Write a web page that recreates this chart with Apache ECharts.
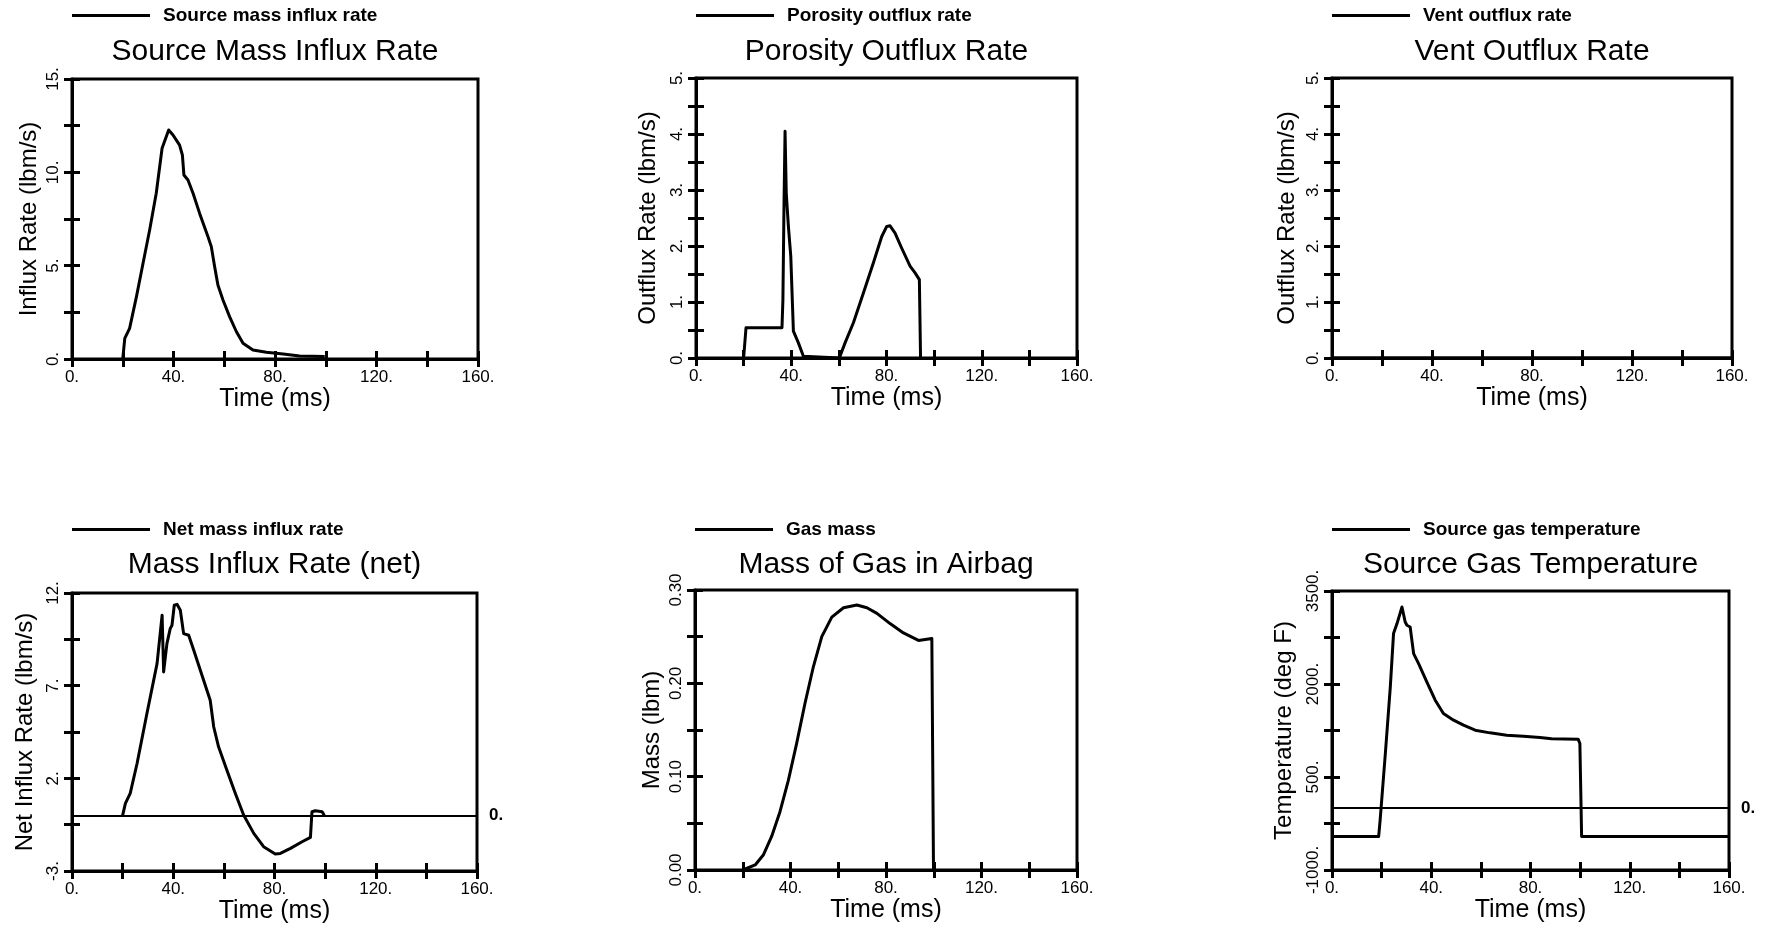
<!DOCTYPE html>
<html><head><meta charset="utf-8">
<script src="https://cdn.jsdelivr.net/npm/echarts@6/dist/echarts.min.js"></script>
<style>html,body{margin:0;padding:0;background:#fff}#c{width:1776px;height:928px}</style>
</head><body><div id="c"></div>
<script>
// ---- data ----
const sourceTime = [20, 20.8, 22.7, 25.4, 28.0, 30.6, 33.2, 35.5, 38.1, 39.8, 42.4, 43.5, 44.1, 45.7, 47.7, 50.3, 53.6, 54.9, 56.2, 57.5, 59.5, 62.1, 64.8, 67.4, 71.3, 76.6, 83.2, 89.7, 99.6];
const sourceRate = [0, 1.1, 1.64, 3.34, 5.13, 6.91, 8.88, 11.29, 12.27, 12.0, 11.46, 10.93, 9.86, 9.59, 8.88, 7.8, 6.55, 6.02, 4.95, 3.96, 3.16, 2.27, 1.46, 0.84, 0.48, 0.36, 0.27, 0.16, 0.13];

const porosityTime = [20, 21, 36.1, 36.5, 37.0, 37.4, 37.9, 38.8, 39.8, 40.9, 43.0, 45.1, 45.8, 60.2, 62.6, 66.1, 70.3, 74.5, 78.0, 80.1, 81.5, 83.6, 86.4, 89.9, 92.0, 93.8, 94.3];
const porosityRate = [0, 0.54, 0.54, 1.04, 2.89, 4.05, 2.95, 2.35, 1.82, 0.48, 0.27, 0.03, 0, 0, 0.27, 0.63, 1.16, 1.70, 2.17, 2.35, 2.36, 2.23, 1.96, 1.64, 1.52, 1.40, 0];

const ventTime = [0, 160];
const ventRate = [0, 0];

const netTime = [20, 21.1, 23.0, 25.7, 29.6, 33.6, 35.6, 36.2, 37.5, 38.8, 39.5, 40.4, 41.5, 42.8, 44.1, 46.1, 48.1, 50.7, 53.3, 54.6, 56.0, 57.9, 61.2, 64.5, 67.8, 71.8, 75.7, 80.3, 82.3, 86.3, 90.9, 94.2, 94.8, 96.1, 98.8, 99.7];
const netRate = [0, 0.65, 1.19, 2.80, 5.50, 8.19, 10.80, 7.74, 9.27, 10.08, 10.26, 11.34, 11.39, 11.07, 9.81, 9.72, 8.91, 7.83, 6.75, 6.21, 4.77, 3.70, 2.44, 1.19, 0.02, -0.97, -1.69, -2.08, -2.05, -1.78, -1.42, -1.19, 0.20, 0.25, 0.20, 0];

const massTime = [20, 25.2, 28.6, 32.1, 35.6, 39.1, 42.6, 46.1, 49.6, 53.1, 57.3, 62.2, 67.8, 72.0, 76.2, 81.7, 87.3, 93.6, 99.2, 99.9];
const massValue = [0, 0.0054, 0.016, 0.036, 0.0625, 0.096, 0.136, 0.179, 0.218, 0.25, 0.271, 0.281, 0.284, 0.281, 0.275, 0.264, 0.254, 0.246, 0.248, 0];

const tempTime = [0, 18.8, 19.4, 21.5, 23.5, 24.8, 26.2, 28.2, 29.5, 30.2, 31.5, 32.9, 34.9, 38.2, 41.6, 44.9, 49.0, 53.0, 57.7, 63.7, 70.4, 77.1, 83.8, 88.5, 99.2, 99.9, 100.6, 160];
const tempValue = [-460, -460, -194, 879, 1953, 2813, 2974, 3242, 3000, 2947, 2920, 2490, 2329, 2034, 1739, 1524, 1416, 1336, 1255, 1212, 1175, 1159, 1137, 1116, 1110, 1040, -460, -460];

const titles = ['Source Mass Influx Rate', 'Porosity Outflux Rate', 'Vent Outflux Rate', 'Mass Influx Rate (net)', 'Mass of Gas in Airbag', 'Source Gas Temperature'];
const seriesNames = ['Source mass influx rate', 'Porosity outflux rate', 'Vent outflux rate', 'Net mass influx rate', 'Gas mass', 'Source gas temperature'];
const yNames = ['Influx Rate (lbm/s)', 'Outflux Rate (lbm/s)', 'Outflux Rate (lbm/s)', 'Net Influx Rate (lbm/s)', 'Mass (lbm)', 'Temperature (deg F)'];
const xName = 'Time (ms)';
const xRange = [0, 160, 40];
const yRanges = [[0, 15, 5], [0, 5, 1], [0, 5, 1], [-3, 12, 5], [0, 0.3, 0.1], [-1000, 3500, 1500]];
const yDecimals = [0, 0, 0, 0, 2, 0];

// ---- layout ----
const FONT = '"Liberation Sans", Arial, Helvetica, sans-serif';
const NARROW = '"Liberation Sans Narrow", "Liberation Sans", Arial, sans-serif';
const grids = [
  {left: 72, top: 79, width: 406, height: 280},
  {left: 696, top: 78, width: 381, height: 280},
  {left: 1332, top: 78, width: 400, height: 280},
  {left: 72, top: 593, width: 405, height: 278},
  {left: 695, top: 590, width: 382, height: 280},
  {left: 1332, top: 591, width: 397, height: 279}
];
const yNameGaps = [31, 36, 33, 35, 31, 36];
const seriesData = [
  [sourceTime, sourceRate], [porosityTime, porosityRate], [ventTime, ventRate],
  [netTime, netRate], [massTime, massValue], [tempTime, tempValue]
];
const zeroLine = [false, false, false, true, false, true];

const zip = (a, b) => a.map((t, i) => [t, b[i]]);
const fmtY = d => v => (d ? v.toFixed(d) : String(Math.round(v)) + '.');

const option = {
  animation: false,
  backgroundColor: '#fff',
  grid: [], xAxis: [], yAxis: [], series: [], legend: [], graphic: []
};

const N = grids.length;
for (let i = 0; i < N; i++) {
  option.grid.push(Object.assign({show: true, borderColor: '#000', borderWidth: 3, containLabel: false}, grids[i]));
}
for (let i = 0; i < N; i++) {
  option.grid.push(Object.assign({show: false, containLabel: false}, grids[i]));
}

function xAxisDef(gridIndex, primary) {
  return {
    type: 'value', gridIndex, min: xRange[0], max: xRange[1], interval: xRange[2],
    position: 'bottom',
    name: primary ? xName : '', nameLocation: 'middle', nameGap: 28,
    nameTextStyle: {fontSize: 25, color: '#000', fontFamily: FONT},
    axisLine: {show: primary, onZero: false, lineStyle: {color: '#000', width: 3}},
    axisTick: {show: true, inside: !primary, length: 8, lineStyle: {color: '#000', width: 3}},
    minorTick: {show: true, splitNumber: 2, length: 8, lineStyle: {color: '#000', width: 3}},
    axisLabel: {show: primary, margin: 10, fontSize: 17, color: '#000', fontFamily: FONT,
      formatter: v => v + '.'},
    splitLine: {show: false}, minorSplitLine: {show: false}
  };
}
function yAxisDef(i, gridIndex, primary) {
  const r = yRanges[i];
  return {
    type: 'value', gridIndex, min: r[0], max: r[1], interval: r[2],
    position: 'left',
    name: primary ? yNames[i] : '', nameLocation: 'middle', nameGap: yNameGaps[i],
    nameMoveOverlap: false,
    nameTextStyle: {fontSize: 24, color: '#000', fontFamily: FONT},
    axisLine: {show: primary, onZero: false, lineStyle: {color: '#000', width: 3}},
    axisTick: {show: true, inside: !primary, length: 8, lineStyle: {color: '#000', width: 3}},
    minorTick: {show: true, splitNumber: 2, length: 8, lineStyle: {color: '#000', width: 3}},
    axisLabel: {show: primary, rotate: 90, margin: 10, fontSize: 17, color: '#000', fontFamily: NARROW,
      formatter: fmtY(yDecimals[i])},
    splitLine: {show: false}, minorSplitLine: {show: false}
  };
}
for (let i = 0; i < N; i++) { option.xAxis.push(xAxisDef(i, true)); option.yAxis.push(yAxisDef(i, i, true)); }
for (let i = 0; i < N; i++) { option.xAxis.push(xAxisDef(N + i, false)); option.yAxis.push(yAxisDef(i, N + i, false)); }

for (let i = 0; i < N; i++) {
  const s = {
    type: 'line', name: seriesNames[i], xAxisIndex: i, yAxisIndex: i,
    data: zip(seriesData[i][0], seriesData[i][1]),
    showSymbol: false, symbol: 'none', smooth: false, z: 5,
    lineStyle: {color: '#000', width: 3, join: 'round'},
    itemStyle: {color: '#000'}
  };
  if (zeroLine[i]) {
    s.markLine = {
      silent: true, symbol: 'none', animation: false,
      lineStyle: {color: '#000', width: 2, type: 'solid'},
      label: {show: true, position: 'end', formatter: '0.', distance: 12, fontSize: 17, fontWeight: 'bold', color: '#000', fontFamily: FONT},
      data: [{yAxis: 0}]
    };
  }
  option.series.push(s);

  const g = grids[i];
  option.legend.push({
    data: [seriesNames[i]], left: g.left, top: i < 3 ? 6 : 520, padding: 0,
    icon: 'rect', itemWidth: 78, itemHeight: 3, selectedMode: false,
    textStyle: {fontSize: 19, fontWeight: 'bold', color: '#000', fontFamily: FONT, padding: [4, 0, 0, 8]}
  });

  option.graphic.push({
    type: 'text', x: g.left + g.width / 2, y: i < 3 ? 52 : 565, silent: true,
    style: {text: titles[i], fill: '#000', font: '30px ' + FONT, align: 'center', verticalAlign: 'middle'}
  });
}

const chart = echarts.init(document.getElementById('c'), null, {renderer: 'canvas'});
chart.setOption(option);
</script>
</body></html>
